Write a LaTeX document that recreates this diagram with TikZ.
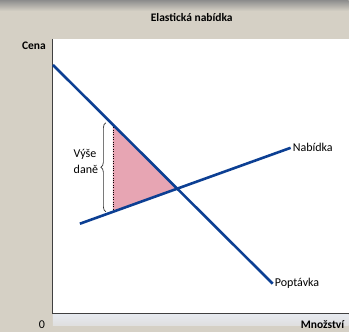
\documentclass[tikz,border=0pt]{standalone}
\usepackage{fontspec}
\setmainfont{Carlito}
\usepackage{xcolor}
\usetikzlibrary{calc,
                decorations.pathreplacing,
                positioning}

\definecolor{bgbeige}{HTML}{D5D0C5}
\definecolor{linblue}{HTML}{0C3F93}
\definecolor{taxpink}{HTML}{E7A5B3}
\definecolor{bandgray}{HTML}{E6E9EF}

\tikzset{
  curve/.style={linblue, line width=2.6pt},
  axisline/.style={black!75, line width=0.9pt},
  lbl/.style={font=\fontsize{12}{16}\selectfont, inner sep=1pt},
  boldlbl/.style={font=\fontsize{11.5}{14}\selectfont\bfseries, inner sep=1pt}
}

\begin{document}
\begin{tikzpicture}[x=1pt,y=-1pt]
% background
\fill[bgbeige] (0,0) rectangle (349,332);
\shade[top color=black!45, bottom color=bgbeige] (0,0) rectangle (349,11);
\fill[white] (53,39) rectangle (349,314);
\shade[top color=bandgray, bottom color=bandgray!60!bgbeige] (53,315) rectangle (349,326);

% axes
\coordinate (o) at (53,314);
\coordinate (ytop) at (53,39);
\coordinate (xend) at (349,314);
\draw[axisline] (ytop) -- (o) -- (xend);

\node[boldlbl] (title) at (192,18) {Elastická nabídka};
\node[boldlbl] (cena) at (34,46) {Cena};
\node[lbl] (zero) at (42,325) {0};
\node[boldlbl, anchor=west] (mnozstvi) at (300,325) {Množství};

% curves
\coordinate (d1) at (53,65);
\coordinate (d2) at (273,284);
\coordinate (s1) at (80,224);
\coordinate (s2) at (291,148);
\coordinate (eq) at (178,189);
\coordinate (t1) at (113,125);
\coordinate (t2) at (113,212);

\fill[taxpink] (t1) -- (eq) -- (t2) -- cycle;
\draw[dotted, black, thin] (t1) -- (t2);

\draw[curve] (d1) -- (d2);
\draw[curve] (s1) -- (s2);

\node[lbl, right=1pt of s2] (nab) {Nabídka};
\node[lbl, right=1pt of d2] (popt) {Poptávka};

% tax brace
\coordinate (b1) at (106,212);
\coordinate (b2) at (106,123);
\draw[black!80, line width=0.7pt, decorate, decoration={brace, amplitude=5pt}] (b1) -- (b2);
\node[lbl, align=left] (vyse) at (86,162) {Výše\\daně};
\end{tikzpicture}
\end{document}
